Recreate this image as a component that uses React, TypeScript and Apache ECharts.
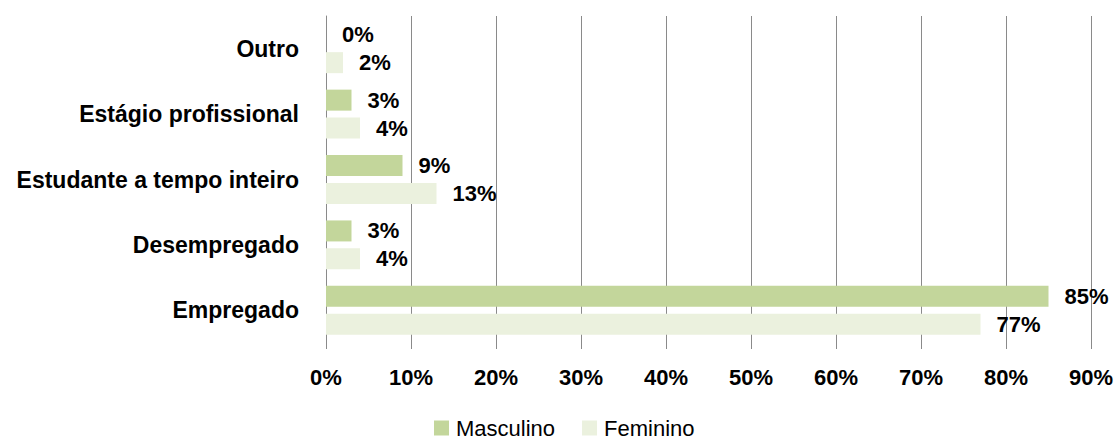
import React, { useEffect, useRef } from "react";
import * as echarts from "echarts";

const categories = ["Empregado", "Desempregado", "Estudante a tempo inteiro", "Estágio profissional", "Outro"];
const masculino = [85, 3, 9, 3, 0];
const feminino = [77, 4, 13, 4, 2];
const seriesNames = ["Masculino", "Feminino"];
const xTicks = [0, 10, 20, 30, 40, 50, 60, 70, 80, 90];

const FONT = "Liberation Sans";
const GRID_COLOR = "#8a8a8a";

export default function App() {
  const ref = useRef<HTMLDivElement>(null);
  useEffect(() => {
    if (!ref.current) return;
    const chart = echarts.init(ref.current, undefined, { renderer: "svg" });
    const labelStyle = {
      show: true,
      position: "right" as const,
      distance: 16,
      formatter: "{c}%",
      fontFamily: FONT,
      fontWeight: "bold" as const,
      fontSize: 22,
      color: "#000",
    };
    chart.setOption({
      animation: false,
      backgroundColor: "#fff",
      grid: { left: 326, right: 28, top: 16, bottom: 102, containLabel: false },
      legend: {
        data: seriesNames,
        top: 412,
        left: 429,
        itemWidth: 15,
        itemHeight: 15,
        itemGap: 27,
        icon: "rect",
        textStyle: { fontFamily: FONT, fontSize: 22, color: "#000", padding: [0, 0, 0, 2] },
      },
      xAxis: {
        type: "value",
        min: xTicks[0],
        max: xTicks[xTicks.length - 1],
        interval: 10,
        axisLine: { show: false },
        axisTick: { show: true, length: 6, lineStyle: { color: GRID_COLOR } },
        splitLine: { show: true, lineStyle: { color: GRID_COLOR, width: 1 } },
        axisLabel: {
          formatter: "{value}%",
          margin: 23,
          fontFamily: FONT,
          fontWeight: "bold",
          fontSize: 22,
          color: "#000",
        },
      },
      yAxis: {
        type: "category",
        data: categories,
        axisLine: { show: true, lineStyle: { color: GRID_COLOR, width: 1 } },
        axisTick: { show: false },
        axisLabel: {
          margin: 27,
          fontFamily: FONT,
          fontWeight: "bold",
          fontSize: 23,
          color: "#000",
        },
      },
      series: [
        {
          name: seriesNames[0],
          type: "bar",
          data: masculino,
          barWidth: 21,
          barGap: "33%",
          itemStyle: { color: "#c3d69b" },
          label: labelStyle,
        },
        {
          name: seriesNames[1],
          type: "bar",
          data: feminino,
          barWidth: 21,
          barGap: "33%",
          itemStyle: { color: "#ebf1de" },
          label: labelStyle,
        },
      ],
    });
    return () => chart.dispose();
  }, []);
  return (
    <div
      ref={ref}
      style={{ position: "absolute", left: 0, top: 0, width: 1119, height: 445 }}
    />
  );
}
